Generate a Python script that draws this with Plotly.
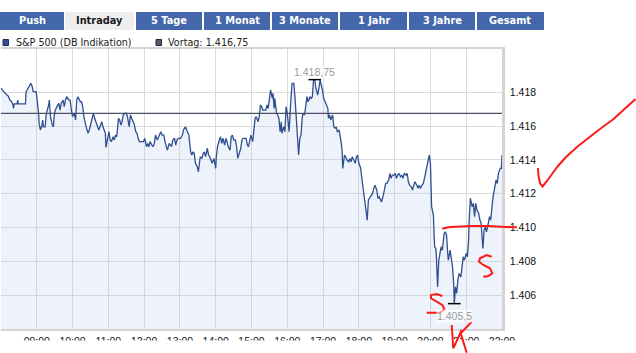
import plotly.graph_objects as go
import pandas as pd

# ---------------- data ----------------
minutes = [0,4,7,10,12,15,18,20,21,22,
27,28,29,41,42,44,48,50,52,54,
59,60,62,63,64,66,68,70,71,74,
76,78,80,81,82,83,86,88,89,91,
94,97,99,101,104,106,108,110,114,116,
118,120,123,125,127,129,133,135,137,139,
142,144,146,148,151,153,155,157,160,162,
164,166,169,171,175,176,179,181,183,185,
188,190,192,194,197,199,201,203,205,208,
210,212,215,217,219,221,223,226,228,230,
232,239,241,244,246,248,250,253,255,257,
259,262,264,266,268,270,273,275,277,279,
282,284,286,288,291,293,295,297,301,304,
306,309,311,313,315,318,320,322,324,326,
329,331,332,334,337,339,341,343,346,348,
350,352,354,357,359,360,361,363,366,368,
370,372,375,377,379,381,384,386,388,390,
393,395,397,399,402,404,406,411,413,415,
417,419,422,424,426,428,431,433,435,437,
439,444,446,448,450,452,455,456,458,459,
462,464,466,468,470,471,474,476,478,480,
483,484,486,488,491,493,494,495,497,498,
499,501,503,505,506,509,511,513,515,518,
520,522,524,526,528,531,533,535,536,539,
541,543,545,548,549,551,553,556,558,560,
562,564,567,569,571,572,573,576,578,580,
583,585,587,589,591,594,596,598,600,603,
605,607,609,611,614,616,618,623,625,627,
630,632,634,636,638,641,643,645,647,650,
652,654,656,659,661,663,665,667,670,672,
674,676,679,681,683,685,688,690,692,694,
697,699,701,703,706,708,710,712,715,717,
718,720,721,722,725,726,727,729,730,732,
734,736,738,740,743,745,747,749,750,753,
755,757,759,760,762,764,766,768,771,773,
775,777,780,782,784,785,787,790,792,794,
796,798,801,803,805,808,810,812,814,817,
819,821,823,825,828,830,832,834,837,839,
840]

prices = [1418.24,1418.04,1417.94,1417.84,1417.78,1417.54,1417.44,1417.25,1417.05,1417.31,
1417.31,1417.54,1417.31,1417.31,1418.04,1418.14,1418.43,1418.53,1418.37,1418.04,
1418.04,1417.74,1417.35,1416.76,1416.16,1415.77,1415.96,1416.36,1415.96,1415.96,
1416.76,1416.95,1417.25,1417.54,1417.15,1416.56,1416.06,1415.96,1416.56,1416.95,
1417.15,1417.35,1416.95,1417.35,1417.54,1417.15,1417.54,1417.74,1417.54,1417.54,
1416.95,1416.56,1416.76,1416.36,1417.54,1417.74,1417.44,1417.44,1417.15,1416.56,
1416.06,1415.87,1415.57,1415.77,1416.16,1416.56,1416.76,1416.46,1416.16,1415.96,
1415.77,1415.96,1416.26,1415.96,1415.57,1414.74,1415.47,1415.67,1415.18,1415.08,
1415.37,1415.18,1415.47,1415.37,1416.46,1416.36,1416.06,1416.26,1416.66,1416.76,
1416.76,1416.56,1415.96,1416.66,1416.46,1416.26,1416.16,1415.67,1415.57,1415.28,
1415.08,1415.08,1415.28,1414.78,1414.98,1414.78,1415.08,1414.88,1414.78,1414.98,
1415.47,1415.18,1415.37,1415.57,1415.67,1415.47,1415.47,1415.08,1414.88,1414.58,
1414.98,1414.88,1414.78,1415.18,1415.28,1414.88,1415.18,1415.28,1415.28,1415.47,
1415.77,1415.96,1415.77,1415.67,1415.47,1414.48,1414.29,1414.48,1414.39,1413.80,
1413.60,1413.30,1413.70,1414.19,1414.09,1414.39,1414.48,1414.19,1414.69,1414.29,
1414.19,1413.99,1413.80,1414.09,1413.80,1413.50,1414.19,1414.78,1415.18,1415.37,
1414.98,1415.28,1414.88,1415.28,1415.08,1414.78,1414.58,1415.37,1415.47,1415.18,
1415.18,1414.78,1414.09,1414.29,1414.69,1415.18,1415.28,1415.28,1414.88,1414.78,
1415.18,1415.47,1415.08,1415.96,1416.46,1416.56,1416.26,1416.56,1417.25,1417.15,
1416.95,1416.95,1417.25,1417.05,1417.64,1418.14,1417.64,1417.94,1417.05,1417.64,
1416.76,1416.66,1416.46,1415.67,1416.26,1415.57,1415.96,1415.67,1417.15,1416.76,
1415.67,1416.66,1417.54,1418.53,1418.53,1417.64,1417.05,1416.06,1415.47,1414.88,
1414.29,1415.28,1415.47,1416.46,1416.76,1416.66,1417.35,1417.74,1417.44,1417.74,
1417.64,1417.74,1418.73,1418.75,1418.24,1417.84,1418.24,1418.75,1418.55,1418.14,
1417.64,1417.44,1417.35,1417.05,1416.46,1416.66,1416.36,1416.66,1415.96,1415.87,
1415.96,1415.67,1415.77,1415.37,1414.88,1414.48,1413.50,1414.29,1414.19,1413.99,
1413.89,1414.09,1413.89,1414.19,1413.99,1413.80,1414.19,1414.29,1413.80,1413.52,
1412.93,1412.32,1411.73,1411.33,1410.44,1411.63,1411.73,1412.02,1412.32,1412.51,
1412.22,1411.73,1411.82,1411.63,1411.52,1411.92,1412.41,1412.61,1412.61,1412.81,
1413.21,1412.91,1413.10,1413.10,1413.21,1412.91,1413.10,1413.21,1413.00,1413.10,
1412.91,1413.21,1413.10,1413.21,1412.71,1412.51,1412.41,1412.22,1412.51,1412.71,
1412.51,1412.32,1412.51,1412.32,1412.51,1412.61,1412.91,1413.30,1413.80,1414.19,
1414.29,1413.80,1412.41,1411.23,1410.74,1409.85,1408.86,1408.77,1408.27,1406.49,
1408.07,1408.47,1408.86,1408.66,1409.65,1409.75,1409.55,1408.47,1408.07,1408.66,
1408.07,1407.68,1406.69,1405.50,1406.49,1406.10,1406.89,1407.28,1407.08,1407.68,
1408.27,1408.07,1408.47,1408.27,1409.26,1410.44,1411.73,1411.23,1411.43,1410.64,
1411.43,1411.03,1410.84,1410.44,1410.25,1408.77,1409.85,1410.04,1409.75,1410.25,
1410.64,1410.44,1411.13,1411.82,1412.41,1412.81,1412.61,1413.21,1413.50,1413.50,
1414.29]

previous_close = 1416.75
series_name = "S&P 500 (DB Indikation)"
y_ticks = [1406, 1408, 1410, 1412, 1414, 1416, 1418]
hour_ticks = list(range(8, 23))
tab_labels = ["Push", "Intraday", "5 Tage", "1 Monat", "3 Monate", "1 Jahr", "3 Jahre", "Gesamt"]
active_tab = "Intraday"

assert len(minutes) == len(prices)

# ---------------- layout helpers ----------------
W, H = 636, 353
L, R, T, B = 1, 502, 49, 329


def px(x):
    return (x - L) / (R - L)


def py(y):
    return (B - y) / (B - T)


def de(v):
    s = f"{v:,.2f}".rstrip("0").rstrip(".")
    return s.replace(",", "#").replace(".", ",").replace("#", ".")


base = pd.Timestamp("2013-01-08")
times = [base + pd.Timedelta(hours=8, minutes=m) for m in minutes]
x_start = base + pd.Timedelta(hours=8)
x_end = base + pd.Timedelta(hours=22)

LINE = "#2f4f8f"
GRID = "#dadada"

fig = go.Figure()
fig.add_trace(go.Scatter(
    x=times, y=prices, mode="lines",
    line=dict(color=LINE, width=1.3),
    fill="tozeroy", fillcolor="rgba(187,203,235,0.25)",
    hoverinfo="skip", showlegend=False))

# high / low markers
i_hi = max(range(len(prices)), key=lambda i: prices[i])
i_lo = min(range(len(prices)), key=lambda i: prices[i])
fig.add_trace(go.Scatter(
    x=[times[i_hi], times[i_lo]], y=[prices[i_hi], prices[i_lo]],
    mode="markers",
    marker=dict(symbol="line-ew", size=9, line=dict(color="black", width=1.5)),
    hoverinfo="skip", showlegend=False))

shapes = []
annotations = []

# previous close line
shapes.append(dict(type="line", xref="paper", yref="y", x0=0, x1=1,
                   y0=previous_close, y1=previous_close,
                   line=dict(color="#4b5068", width=1.3), layer="above"))

# high / low labels
for i, ys in ((i_hi, 8), (i_lo, -12.5)):
    annotations.append(dict(x=times[i], y=prices[i], xref="x", yref="y",
                            xanchor="center", yanchor="middle",
                            text=de(prices[i]), showarrow=False, yshift=ys,
                            font=dict(family="Liberation Sans", size=10.5, color="#9a9a9a"),
                            bgcolor="rgba(255,255,255,0.6)", borderpad=0))

# tabs
tab_pos = [(0, 64), (65, 134), (136, 202), (204, 270), (272, 338), (340, 407), (409, 475), (477, 544)]
for lab, (a, b) in zip(tab_labels, tab_pos):
    active = lab == active_tab
    shapes.append(dict(type="rect", xref="paper", yref="paper",
                       x0=px(a), x1=px(b), y0=py(30), y1=py(12),
                       fillcolor="#eeeeee" if active else "#4466aa",
                       line=dict(width=0), layer="above"))
    annotations.append(dict(xref="paper", yref="paper", x=px((a + b) / 2), y=py(21),
                            xanchor="center", yanchor="middle",
                            text=f"<b>{lab}</b>", showarrow=False,
                            font=dict(family="DejaVu Sans", size=9.8,
                                      color="#1a1a1a" if active else "white")))

# legend
shapes.append(dict(type="rect", xref="paper", yref="paper", x0=px(3), x1=px(8.5),
                   y0=py(45.5), y1=py(39.5), fillcolor="#34508f",
                   line=dict(color="#1f2f5f", width=1), layer="above"))
shapes.append(dict(type="rect", xref="paper", yref="paper", x0=px(156), x1=px(161.5),
                   y0=py(45.5), y1=py(39.5), fillcolor="#555a70",
                   line=dict(color="#2a2a2a", width=1), layer="above"))
annotations.append(dict(xref="paper", yref="paper", x=px(14), y=py(42.5),
                        xanchor="left", yanchor="middle",
                        text=series_name, showarrow=False,
                        font=dict(family="DejaVu Sans", size=9.6, color="#222222")))
annotations.append(dict(xref="paper", yref="paper", x=px(166), y=py(42.5),
                        xanchor="left", yanchor="middle",
                        text="Vortag: " + de(previous_close), showarrow=False,
                        font=dict(family="DejaVu Sans", size=9.6, color="#222222")))

# clipped area below the tick labels
shapes.append(dict(type="rect", xref="paper", yref="paper", x0=px(-2), x1=px(640),
                   y0=py(354), y1=py(340.5), fillcolor="white",
                   line=dict(width=0), layer="above"))


# hand-drawn red marks on the screenshot
def path(pts):
    return "M " + " L ".join(f"{px(x):.5f},{py(y):.5f}" for x, y in pts)


strokes = [
    [(538, 168), (538.5, 176), (540, 183), (542.5, 186.5), (547, 181), (552, 174), (558, 166),
     (566, 157), (576.7, 147.3), (590, 136.7), (602, 127.5), (613.3, 119.3), (624, 109.5), (635.5, 99)],
    [(442.3, 228.8), (448, 227.3), (455, 226.7), (471.7, 226), (488.3, 226), (505, 227), (517, 227.3)],
    [(491.7, 256.7), (486.7, 255), (480, 258.3), (479, 261.7), (483.3, 265), (490, 268.3),
     (492.3, 273.3), (488.3, 276), (483.3, 276.7)],
    [(442.3, 296), (436.7, 294), (431, 295), (431, 298.3), (436.7, 301.7), (442.3, 305),
     (444.3, 309.3), (440, 312.7), (426.7, 312.7)],
    [(451.7, 325), (453.3, 348.3), (461.7, 330)],
    [(471.7, 321.7), (460.7, 333.3), (466.7, 352.7)],
]
for s in strokes:
    shapes.append(dict(type="path", xref="paper", yref="paper", path=path(s),
                       line=dict(color="#ff1a1a", width=2), layer="above"))

tick_font = dict(family="Liberation Sans", size=10.5, color="#111111")

fig.update_layout(
    width=W, height=H,
    margin=dict(l=L, r=W - R, t=T, b=H - B, pad=0),
    paper_bgcolor="white", plot_bgcolor="white",
    separators=",.",
    showlegend=False,
    shapes=shapes, annotations=annotations,
    xaxis=dict(type="date", range=[x_start, x_end],
               tickvals=[base + pd.Timedelta(hours=h) for h in hour_ticks],
               ticktext=["" if h == 8 else f"{h:02d}:00" for h in hour_ticks],
               showgrid=True, gridcolor=GRID, gridwidth=1,
               showline=True, mirror=True, linecolor="#d4d4d4", linewidth=2,
               ticks="outside", ticklen=1, tickcolor="rgba(0,0,0,0)",
               tickfont=tick_font, zeroline=False, fixedrange=True),
    yaxis=dict(side="right", range=[1404, 1420.56], tickvals=y_ticks,
               tickformat=",d",
               showgrid=True, gridcolor=GRID, gridwidth=1,
               showline=True, linecolor="#d4d4d4", linewidth=2.5,
               ticks="outside", ticklen=3, tickcolor="rgba(0,0,0,0)",
               tickfont=tick_font, zeroline=False, fixedrange=True),
)

fig.write_html("out.html", config={"displayModeBar": False})
